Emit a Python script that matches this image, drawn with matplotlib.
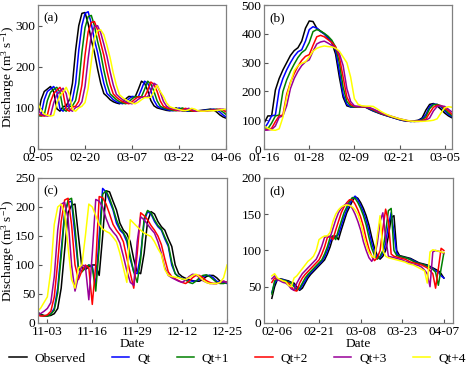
#!/usr/bin/env python3
# -*- coding: utf-8 -*-

import numpy as np
import pandas as pd
import matplotlib
matplotlib.use("Agg")
import matplotlib.pyplot as plt
import matplotlib.dates as mdates

plt.rcParams['font.family'] = ['Liberation Serif', 'DejaVu Serif']
plt.rcParams['mathtext.fontset'] = 'custom'
plt.rcParams['mathtext.rm'] = 'Liberation Serif'
plt.rcParams['mathtext.it'] = 'Liberation Serif:italic'

FS = 9.6

# ========= DATA (daily discharge, m3/s) =========
SERIES_NAMES = ["Observed", "Qt", "Qt+1", "Qt+2", "Qt+3", "Qt+4"]
SERIES_COLORS = ["black", "#0000ff", "#008000", "#ff0000", "#990099", "#ffff00"]

# (a) starts 2015-02-05
a_start = "2015-02-05"
a_obs = [83, 120, 140, 146, 152, 140, 98, 92, 103, 105, 120, 160, 240, 300, 330, 332, 305, 265, 235, 195,
         160, 135, 128, 120, 115, 112, 110, 115, 122, 128, 127, 127, 145, 165, 160, 142, 118, 105, 100, 98,
         96, 94, 93, 95, 100, 97, 93, 92, 92, 93, 93, 93, 94, 95, 96, 97, 95, 90, 83, 78, 75]
a_qt0 = [80, 83, 120, 140, 146, 152, 140, 98, 92, 103, 105, 120, 160, 240, 300, 330, 334, 305, 265, 235,
         195, 160, 135, 128, 120, 115, 112, 110, 115, 122, 128, 127, 127, 145, 165, 160, 142, 118, 105, 100,
         98, 96, 94, 93, 95, 100, 97, 93, 92, 92, 93, 93, 93, 94, 95, 96, 97, 95, 90, 83, 78]
a_qt1 = [82, 80, 83, 118, 138, 145, 150, 138, 97, 92, 103, 105, 118, 158, 235, 295, 322, 325, 300, 262,
         232, 192, 158, 134, 127, 120, 115, 112, 110, 115, 122, 128, 127, 127, 145, 165, 158, 140, 117, 104,
         100, 98, 96, 94, 93, 95, 100, 97, 93, 92, 92, 93, 93, 93, 94, 95, 96, 97, 95, 90, 84]
a_qt2 = [85, 82, 80, 83, 115, 135, 143, 150, 136, 96, 92, 102, 104, 116, 155, 228, 285, 308, 310, 290,
         258, 228, 190, 157, 134, 126, 120, 115, 112, 110, 115, 122, 127, 126, 127, 143, 163, 157, 140, 117,
         104, 100, 98, 96, 94, 93, 95, 99, 97, 93, 92, 92, 93, 93, 93, 94, 95, 96, 97, 95, 90]
a_qt3 = [95, 85, 82, 80, 82, 112, 132, 140, 148, 135, 96, 92, 101, 104, 115, 152, 220, 278, 298, 300,
         283, 255, 225, 188, 156, 133, 126, 120, 115, 112, 110, 115, 121, 126, 126, 127, 142, 160, 155, 138,
         116, 104, 100, 98, 96, 94, 93, 95, 99, 97, 93, 92, 92, 93, 93, 93, 94, 95, 96, 97, 95]
a_qt4 = [110, 95, 85, 82, 80, 82, 110, 130, 138, 150, 133, 96, 92, 100, 104, 113, 148, 212, 270, 288,
         290, 278, 252, 222, 185, 155, 132, 125, 120, 115, 112, 110, 114, 120, 125, 125, 126, 140, 155, 140,
         128, 112, 103, 100, 98, 96, 94, 93, 95, 99, 97, 93, 92, 92, 93, 93, 93, 94, 95, 96, 97]

# (b) starts 2015-01-16
b_start = "2015-01-16"
b_obs = [90, 115, 115, 205, 245, 275, 300, 325, 342, 352, 375, 420, 445, 443, 420, 410, 400, 385, 370, 330,
         250, 180, 150, 146, 146, 147, 147, 145, 138, 132, 127, 122, 118, 114, 110, 106, 102, 99, 97, 96,
         98, 100, 108, 135, 155, 158, 150, 138, 125, 115, 108]
b_qt0 = [70, 90, 115, 118, 205, 245, 275, 300, 322, 338, 345, 375, 415, 425, 420, 408, 400, 388, 372, 345,
         270, 190, 155, 147, 146, 147, 147, 145, 140, 133, 128, 123, 118, 114, 110, 106, 102, 99, 97, 96,
         97, 99, 104, 120, 148, 156, 155, 146, 133, 120, 112]
b_qt1 = [68, 70, 90, 115, 118, 200, 240, 270, 295, 318, 335, 345, 370, 408, 415, 410, 402, 392, 378, 355,
         300, 215, 165, 150, 146, 147, 147, 146, 142, 135, 129, 124, 119, 115, 111, 107, 103, 100, 98, 96,
         96, 98, 101, 112, 140, 154, 155, 150, 138, 125, 115]
b_qt2 = [66, 68, 72, 95, 115, 118, 190, 232, 262, 288, 308, 322, 328, 360, 390, 395, 390, 380, 370, 355,
         320, 250, 180, 155, 148, 147, 147, 146, 143, 137, 131, 125, 120, 116, 112, 108, 104, 101, 98, 97,
         96, 97, 99, 104, 125, 145, 152, 151, 143, 132, 120]
b_qt3 = [65, 66, 68, 80, 110, 115, 150, 210, 245, 270, 290, 303, 310, 340, 365, 372, 375, 368, 360, 350,
         332, 290, 210, 165, 150, 148, 148, 147, 144, 139, 133, 127, 121, 117, 113, 109, 105, 102, 99, 97,
         96, 96, 97, 100, 108, 132, 148, 150, 148, 138, 128]
b_qt4 = [80, 72, 66, 65, 70, 110, 180, 230, 272, 290, 298, 303, 320, 340, 350, 355, 358, 356, 355, 350,
         340, 320, 300, 250, 175, 155, 150, 149, 149, 148, 140, 131, 124, 118, 113, 109, 105, 102, 99, 97,
         96, 96, 96, 97, 98, 100, 105, 125, 143, 147, 145]

# (c) starts 2014-10-31
c_start = "2014-10-31"
c_obs = [20, 15, 13, 12, 13, 16, 25, 60, 125, 190, 203, 205, 150, 95, 92, 97, 100, 100, 82, 150,
         228, 226, 210, 195, 172, 160, 154, 140, 110, 88, 85, 120, 175, 192, 188, 175, 166, 160, 145, 132,
         100, 85, 80, 77, 75, 73, 72, 72, 75, 80, 82, 82, 78, 72, 70, 70]
c_qt0 = [15, 13, 12, 13, 16, 25, 60, 125, 190, 208, 210, 150, 92, 90, 96, 100, 98, 65, 150, 232,
         226, 210, 195, 172, 160, 154, 140, 110, 88, 85, 118, 175, 192, 188, 175, 166, 160, 145, 132, 100,
         85, 80, 77, 75, 73, 72, 72, 75, 80, 82, 82, 78, 72, 70, 70, 68]
c_qt1 = [17, 14, 12, 12, 15, 22, 52, 115, 185, 212, 215, 165, 95, 88, 95, 100, 95, 55, 130, 222,
         228, 215, 198, 178, 163, 156, 145, 115, 88, 70, 110, 180, 194, 190, 178, 168, 162, 148, 135, 105,
         85, 79, 76, 74, 70, 68, 72, 78, 82, 83, 80, 75, 70, 68, 68, 70]
c_qt2 = [14, 12, 12, 14, 20, 45, 105, 175, 212, 215, 170, 100, 75, 90, 100, 95, 32, 100, 218, 216,
         205, 188, 170, 160, 152, 140, 112, 86, 60, 120, 190, 185, 178, 168, 160, 150, 135, 110, 88, 80,
         76, 73, 70, 68, 72, 78, 82, 82, 78, 73, 70, 68, 68, 70, 72, 70]
c_qt3 = [14, 16, 20, 25, 35, 80, 160, 205, 208, 180, 100, 55, 80, 100, 98, 40, 120, 213, 210, 200,
         180, 165, 157, 150, 138, 115, 90, 70, 65, 140, 183, 178, 170, 162, 155, 140, 120, 95, 82, 78,
         75, 72, 70, 74, 80, 84, 83, 78, 73, 70, 68, 68, 68, 70, 72, 70]
c_qt4 = [20, 25, 35, 45, 90, 170, 200, 205, 190, 130, 75, 60, 95, 100, 150, 205, 200, 185, 170, 162,
         158, 155, 148, 140, 120, 95, 70, 178, 172, 166, 160, 155, 152, 149, 140, 128, 118, 92, 82, 80,
         79, 78, 76, 75, 78, 82, 84, 80, 74, 70, 68, 68, 68, 70, 78, 100]

# (d) starts 2015-02-04
d_start = "2015-02-04"
d_obs = [34, 50, 60, 61, 60, 59, 58, 56, 55, 50, 45, 48, 55, 62, 67, 71, 75, 79, 83, 87,
         95, 105, 118, 120, 115, 128, 140, 152, 160, 168, 174, 172, 166, 158, 148, 135, 118, 103, 93, 88,
         92, 100, 120, 145, 148, 100, 93, 92, 91, 90, 89, 87, 85, 83, 82, 81, 80, 78, 76, 74,
         72, 68, 62]
d_qt0 = [42, 55, 60, 60, 60, 58, 57, 55, 52, 47, 46, 52, 58, 65, 69, 73, 77, 81, 85, 91,
         100, 112, 120, 118, 122, 134, 146, 156, 164, 171, 175, 170, 162, 153, 142, 127, 110, 98, 90, 90,
         96, 110, 135, 152, 125, 96, 92, 91, 90, 89, 88, 86, 84, 82, 81, 80, 79, 77, 75, 72,
         70, 65, 62]
d_qt1 = [40, 58, 61, 60, 59, 58, 56, 55, 50, 45, 48, 55, 62, 67, 71, 75, 79, 83, 87, 95,
         105, 118, 120, 115, 128, 140, 152, 160, 168, 173, 172, 166, 158, 148, 135, 118, 103, 93, 88, 92,
         100, 125, 155, 158, 100, 93, 92, 91, 90, 89, 87, 85, 83, 82, 81, 80, 78, 76, 74, 70,
         52, 75, 97]
d_qt2 = [56, 62, 60, 59, 58, 56, 55, 50, 45, 44, 55, 62, 67, 71, 75, 79, 83, 87, 95, 105,
         118, 120, 115, 128, 140, 152, 160, 166, 170, 170, 164, 156, 146, 133, 116, 102, 92, 86, 90, 100,
         130, 157, 140, 95, 92, 91, 90, 89, 88, 86, 84, 83, 82, 81, 80, 78, 76, 72, 68, 48,
         75, 103, 100]
d_qt3 = [61, 65, 60, 58, 56, 55, 52, 47, 45, 55, 62, 68, 72, 76, 80, 84, 88, 96, 106, 118,
         120, 118, 130, 142, 152, 158, 162, 165, 163, 158, 150, 140, 128, 112, 100, 90, 85, 92, 110, 140,
         152, 118, 92, 91, 90, 89, 88, 87, 85, 84, 82, 81, 80, 79, 77, 73, 68, 50, 98, 100,
         99, 98, 96]
d_qt4 = [65, 68, 62, 60, 58, 57, 52, 50, 62, 65, 70, 75, 80, 85, 88, 92, 100, 115, 118, 120,
         120, 125, 140, 150, 156, 160, 162, 163, 162, 160, 156, 150, 138, 122, 108, 97, 92, 90, 120, 148,
         100, 92, 90, 89, 88, 87, 86, 85, 84, 82, 81, 80, 78, 76, 74, 72, 55, 98, 101, 100,
         99, 98, 97]

# ========= PANELS =========
PANELS = [
    dict(tag="(a)", start=a_start, series=[a_obs, a_qt0, a_qt1, a_qt2, a_qt3, a_qt4],
         ticks=["2015-02-05", "2015-02-20", "2015-03-07", "2015-03-22", "2015-04-06"],
         xlim=("2015-02-05", "2015-04-06"), ylim=350, ystep=100,
         rect=[0.080, 0.594, 0.396, 0.392]),
    dict(tag="(b)", start=b_start, series=[b_obs, b_qt0, b_qt1, b_qt2, b_qt3, b_qt4],
         ticks=["2015-01-16", "2015-01-28", "2015-02-09", "2015-02-21", "2015-03-05"],
         xlim=("2015-01-16", "2015-03-07"), ylim=500, ystep=100,
         rect=[0.556, 0.594, 0.396, 0.392]),
    dict(tag="(c)", start=c_start, series=[c_obs, c_qt0, c_qt1, c_qt2, c_qt3, c_qt4],
         ticks=["2014-11-03", "2014-11-16", "2014-11-29", "2014-12-12", "2014-12-25"],
         xlim=("2014-10-31 07:00", "2014-12-25"), ylim=250, ystep=50,
         rect=[0.080, 0.120, 0.398, 0.395]),
    dict(tag="(d)", start=d_start, series=[d_obs, d_qt0, d_qt1, d_qt2, d_qt3, d_qt4],
         ticks=["2015-02-06", "2015-02-21", "2015-03-08", "2015-03-23", "2015-04-07"],
         xlim=("2015-02-01 05:00", "2015-04-10 08:00"), ylim=200, ystep=50,
         rect=[0.556, 0.120, 0.398, 0.395]),
]

fig = plt.figure(figsize=(4.75, 3.67), dpi=100)

for i, p in enumerate(PANELS):
    ax = fig.add_axes(p["rect"])
    for name, color, y in zip(SERIES_NAMES, SERIES_COLORS, p["series"]):
        x = pd.date_range(p["start"], periods=len(y), freq="D")
        ax.plot(x, y, color=color, lw=1.1, label=name)

    ax.set_xlim(pd.Timestamp(p["xlim"][0]), pd.Timestamp(p["xlim"][1]))
    ax.set_xticks(pd.to_datetime(p["ticks"]))
    ax.xaxis.set_major_formatter(mdates.DateFormatter("%m-%d"))
    ax.set_ylim(0, p["ylim"])
    ax.set_yticks(np.arange(0, p["ylim"] + 1, p["ystep"]))

    ax.tick_params(direction="in", length=3, width=0.8, labelsize=FS, pad=2,
                   top=False, right=False, color="#555555")
    for s in ax.spines.values():
        s.set_color("#808080")
        s.set_linewidth(0.9)

    ax.text(0.03, 0.91, p["tag"], transform=ax.transAxes, fontsize=FS,
            ha="left", va="center")

    if i % 2 == 0:
        ax.set_ylabel("Discharge (m$^{3}$ s$^{-1}$)", fontsize=FS)
        ax.yaxis.set_label_coords(-0.112, 0.5)
    if i >= 2:
        ax.set_xlabel("Date", fontsize=FS, labelpad=0)

handles, labels = ax.get_legend_handles_labels()
fig.legend(handles, labels, loc="center", bbox_to_anchor=(0.5, 0.022), ncol=6,
           frameon=False, fontsize=FS, handlelength=1.3, handletextpad=0.6,
           columnspacing=1.95, borderaxespad=0)

fig.savefig("out.png", dpi=100)
